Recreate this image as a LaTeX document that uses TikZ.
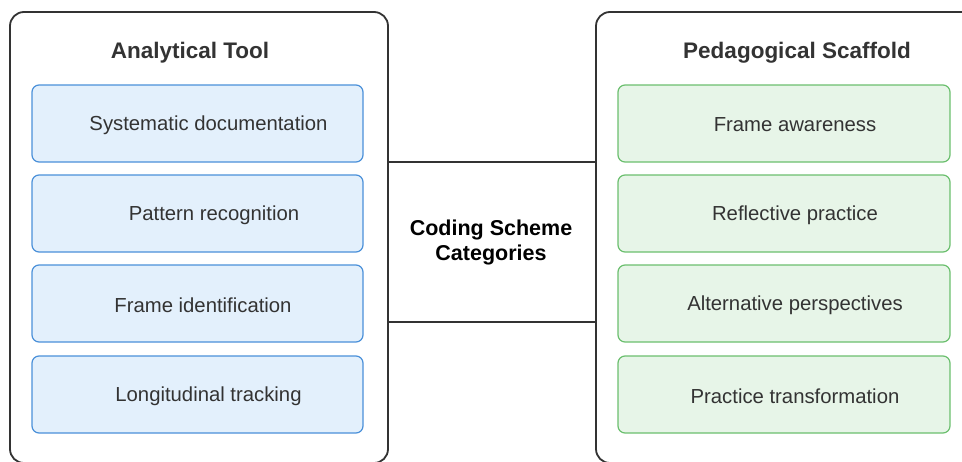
\documentclass[tikz,border=0pt]{standalone}
\usepackage{fontspec}
\setmainfont{Liberation Sans}
\usetikzlibrary{positioning}

\definecolor{framegray}{HTML}{333333}
\definecolor{toolblue}{HTML}{4A90D9}
\definecolor{toolfill}{HTML}{E3F0FC}
\definecolor{scafgreen}{HTML}{6BBF6E}
\definecolor{scaffill}{HTML}{E7F5E8}

\begin{document}
\begin{tikzpicture}[x=1pt, y=-1pt,
    panel/.style={draw=framegray, line width=1.8pt, rounded corners=14pt, minimum height=451pt},
    title/.style={text=framegray, font=\fontsize{22.5}{26}\selectfont\bfseries},
    item/.style={line width=1.2pt, rounded corners=7pt, minimum height=77pt},
    tooli/.style={item, draw=toolblue, fill=toolfill, minimum width=331pt},
    scafi/.style={item, draw=scafgreen, fill=scaffill, minimum width=332pt},
    itemtext/.style={text=framegray, font=\fontsize{20.3}{24}\selectfont},
    link/.style={draw=framegray, line width=1.8pt}]
	\useasboundingbox (0,0) rectangle (962,461);

	% the two panels
	\node[panel, minimum width=378pt] (tool) at (199,237.5) {};
	\node[panel, minimum width=380pt] (scaffold) at (786,237.5) {};
	\node[title] (tooltitle) at (190,52.5) {Analytical Tool};
	\node[title] (scaftitle) at (797,52.5) {Pedagogical Scaffold};

	% items of the left panel
	\foreach \y/\dx/\name/\txt in {123.5/11/t1/Systematic documentation, 213.5/16.5/t2/Pattern recognition,
	                               303.5/5.5/t3/Frame identification, 394.5/11/t4/Longitudinal tracking} {
		\node[tooli] (\name) at (197.5,\y) {};
		\node[itemtext] (\name txt) at ([xshift=\dx pt, yshift=-1.5pt]\name.center) {\txt};
	}

	% items of the right panel
	\foreach \y/\name/\txt in {123.5/s1/Frame awareness, 213.5/s2/Reflective practice,
	                           303.5/s3/Alternative perspectives, 394.5/s4/Practice transformation} {
		\node[scafi] (\name) at (784,\y) {};
		\node[itemtext] (\name txt) at ([xshift=11pt, yshift=-1.5pt]\name.center) {\txt};
	}

	% middle
	\node[minimum width=208pt, minimum height=160pt, align=center,
	      font=\fontsize{21.5}{25}\selectfont\bfseries] (hub) at (491,242) {Coding Scheme\\Categories};
	\draw[link] (tool.east |- hub.north) -- (scaffold.west |- hub.north);
	\draw[link] (tool.east |- hub.south) -- (scaffold.west |- hub.south);
\end{tikzpicture}
\end{document}
